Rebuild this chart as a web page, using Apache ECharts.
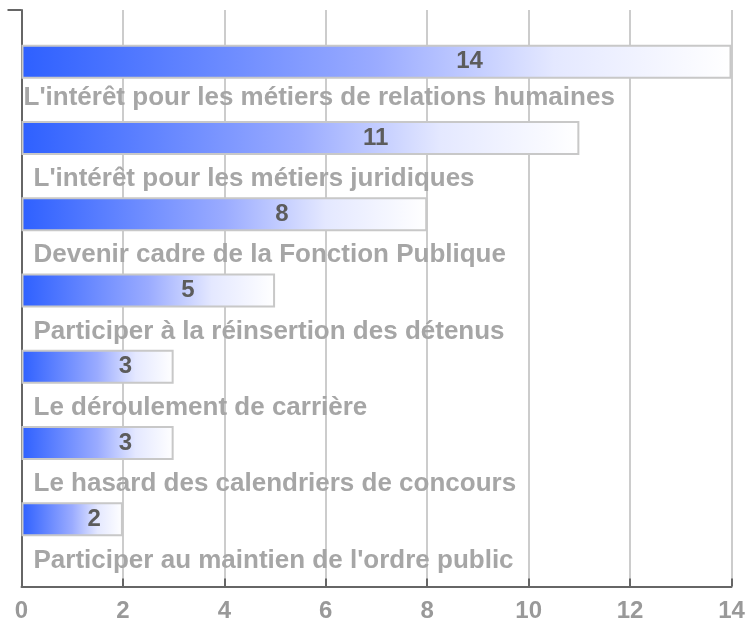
<!DOCTYPE html>
<html>
<head>
<meta charset="utf-8">
<script src="https://cdn.jsdelivr.net/npm/echarts@6/dist/echarts.min.js"></script>
<style>
  html, body { margin: 0; padding: 0; background: #fff; }
  #chart { width: 752px; height: 624px; }
</style>
</head>
<body>
<div id="chart"></div>
<script>
var reasons = [
    "L'intérêt pour les métiers de relations humaines",
    "L'intérêt pour les métiers juridiques",
    "Devenir cadre de la Fonction Publique",
    "Participer à la réinsertion des détenus",
    "Le déroulement de carrière",
    "Le hasard des calendriers de concours",
    "Participer au maintien de l'ordre public"
];
var counts = [14, 11, 8, 5, 3, 3, 2];
var xTicks = [0, 2, 4, 6, 8, 10, 12, 14];

var chart = echarts.init(document.getElementById('chart'));

var barFill = new echarts.graphic.LinearGradient(0, 0, 1, 0, [
    { offset: 0, color: '#2e60ff' },
    { offset: 0.5, color: '#9aabff' },
    { offset: 0.75, color: '#e4e8ff' },
    { offset: 1, color: '#ffffff' }
]);

var option = {
    animation: false,
    textStyle: { fontFamily: 'Liberation Sans, Arial, sans-serif' },
    grid: [
        // frame: split lines, x labels, axis lines
        { left: 21.5, right: 20.5, top: 10, bottom: 37.5 },
        // bars
        { left: 21.5, right: 20.5, top: 23.5, bottom: 66.5 }
    ],
    xAxis: [
        {
            gridIndex: 0, type: 'value',
            min: xTicks[0], max: xTicks[xTicks.length - 1], interval: xTicks[1] - xTicks[0],
            axisLine: { show: true, lineStyle: { color: '#666', width: 2 } },
            axisTick: { show: true, inside: true, length: 8, lineStyle: { color: '#666', width: 2 } },
            axisLabel: { color: '#999', fontSize: 24, fontWeight: 'bold', margin: 13 },
            splitLine: { show: true, lineStyle: { color: '#cccccc', width: 2 } }
        },
        {
            gridIndex: 1, type: 'value',
            min: xTicks[0], max: xTicks[xTicks.length - 1],
            show: false
        }
    ],
    yAxis: [
        {
            gridIndex: 0, type: 'category', data: ['', ''], boundaryGap: false,
            axisLine: { show: true, lineStyle: { color: '#666', width: 2 } },
            axisTick: {
                show: true, length: 14, lineStyle: { color: '#666', width: 2 },
                interval: function (idx) { return idx === 1; }
            },
            axisLabel: { show: false },
            splitLine: { show: false }
        },
        {
            gridIndex: 1, type: 'category', data: reasons, inverse: true,
            show: false
        }
    ],
    series: [
        {
            type: 'bar', xAxisIndex: 1, yAxisIndex: 1,
            data: counts,
            barWidth: 34,
            itemStyle: { color: barFill, borderColor: '#c8c8c8', borderWidth: 2 },
            label: {
                show: true, position: ['61.7%', '50%'], offset: [10, 0],
                align: 'center', verticalAlign: 'middle',
                color: '#5c5c5c', fontSize: 24, fontWeight: 'bold'
            },
            z: 2
        },
        {
            // names written below each bar (first one sits a bit higher and further left)
            type: 'bar', xAxisIndex: 1, yAxisIndex: 1,
            barWidth: 34, barGap: '-100%',
            data: counts.map(function (v, i) {
                return {
                    value: v,
                    label: { position: i === 0 ? [2, 53] : [12, 58] }
                };
            }),
            itemStyle: { color: 'rgba(0,0,0,0)' },
            label: {
                show: true, formatter: '{b}',
                align: 'left', verticalAlign: 'middle',
                color: '#a6a6a6', fontSize: 26, fontWeight: 'bold'
            },
            z: 3
        }
    ]
};
chart.setOption(option);
</script>
</body>
</html>
